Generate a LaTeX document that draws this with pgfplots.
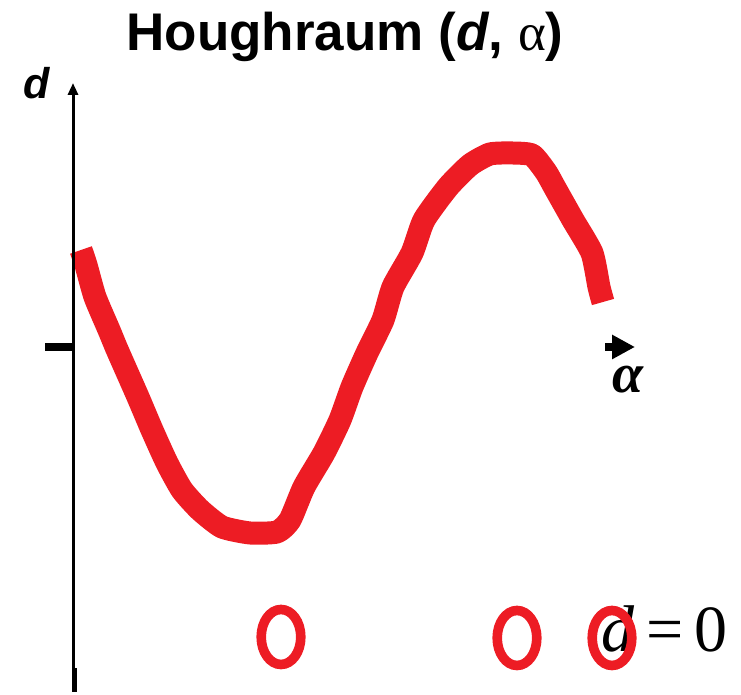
\documentclass[border=0pt]{standalone}
\usepackage{pgfplots}
\pgfplotsset{compat=1.18}
\usetikzlibrary{arrows.meta}
\usepackage{fontspec}
\setmainfont{Liberation Sans}
\newfontfamily\timesfont{Liberation Serif}
\definecolor{houghred}{RGB}{237,28,36}
\newcommand\titlefont{\fontsize{26.5}{30}\selectfont\bfseries}
\newcommand\dfont{\fontsize{21.5}{24}\selectfont\bfseries\itshape}
\newcommand\afont{\fontsize{28}{32}\selectfont\timesfont\bfseries\itshape}
\newcommand\eqfont{\fontsize{33}{36}\selectfont\timesfont}

\begin{document}
\begin{tikzpicture}
\begin{axis}[
  scale only axis, width=370.5pt, height=346pt,
  xmin=-73, xmax=668, ymin=-345, ymax=347,
  hide axis, clip=false,
]
% Hough curve d(alpha)
\addplot[houghred, line width=11.5pt, line join=round, smooth, tension=0.35] coordinates {
  (8,97)(13,82)(22,50)(36,17)(43,0)(50,-16)(65,-50)(79,-83)(94,-116)
  (109,-143)(127,-163)(149,-180)(177,-186)(204,-185)(217,-173)(231,-140)
  (251,-106)(267,-73)(279,-40)(294,-6)(310,27)(320,60)(339,94)(351,127)
  (375,160)(397,182)(417,193)(439,194)(459,192)(473,175)(482,159)
  (500,127)(519,94)(526,60)(530,45)
};
\end{axis}
% decorations in picture units: 1px = 0.5pt
\begin{scope}[x=0.5pt, y=-0.5pt, shift={(0pt,346pt)}]
\path (0,0) rectangle (741,692);
\node[font=\eqfont, anchor=base west, inner sep=0pt] at (601,652) {\itshape d};
\node[font=\eqfont, anchor=base, inner sep=0pt] at (665,652) {=};
\node[font=\eqfont, anchor=base, inner sep=0pt] at (711,652) {0};
\draw[line width=1.5pt, -{Triangle[length=6pt,width=5pt]}] (73,692) -- (73,83);
\draw[line width=2.5pt] (74.5,692) -- (74.5,668);
\draw[line width=4pt] (45,347) -- (73,347);
\draw[line width=4pt, -{Triangle[length=11.5pt,width=11.5pt]}] (605,347) -- (635,347);
\node[font=\titlefont, anchor=base] at (345,51) {Houghraum ({\itshape d}, {\timesfont\mdseries α})};
\node[font=\dfont] at (37,83) {d};
\node[font=\afont] at (628,380) {α};
\end{scope}
\begin{axis}[
  scale only axis, width=370.5pt, height=346pt,
  xmin=-73, xmax=668, ymin=-345, ymax=347,
  hide axis, clip=false,
]
% d = 0 markers
\addplot[only marks, mark=o, mark size=13.75pt,
  mark options={xscale=0.72, line width=4.8pt, draw=houghred}] coordinates {
  (208,-290)(444,-291)(539,-291)
};
\end{axis}
\end{tikzpicture}
\end{document}
